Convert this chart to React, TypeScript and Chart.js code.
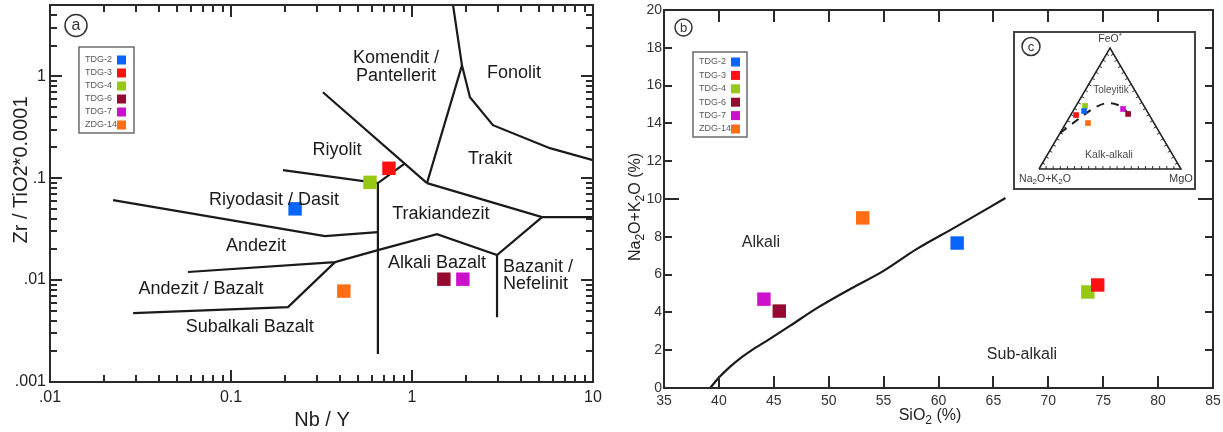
import { useEffect, useRef } from 'react';
import { Chart, registerables } from 'chart.js';

Chart.register(...registerables);

const FONT = '"Liberation Sans", Arial, Helvetica, sans-serif';
const INK = '#1a1a1a';

// Samples shared by all three diagrams
const SAMPLES = ['TDG-2', 'TDG-3', 'TDG-4', 'TDG-6', 'TDG-7', 'ZDG-14'];
const SAMPLE_COLORS = ['#0a64ff', '#ff1010', '#96c814', '#960a32', '#cc10cc', '#ff6e14'];

// (a) Nb/Y vs Zr/TiO2*0.0001
const NB_Y = [0.226, 0.746, 0.586, 1.5, 1.91, 0.42];
const ZR_TIO2 = [0.05, 0.125, 0.091, 0.0102, 0.0102, 0.0078];

// (b) SiO2 vs Na2O+K2O
const SIO2 = [61.7, 74.5, 73.6, 45.5, 44.1, 53.1];
const NA2O_K2O = [7.67, 5.45, 5.08, 4.07, 4.7, 9.0];

// (c) AFM: alkalis, FeO*, MgO (%)
const AFM_A = [44.3, 51.6, 41.5, 14.5, 16.0, 46.5];
const AFM_F = [47.9, 44.6, 52.1, 45.5, 49.6, 38.0];
const AFM_M = [7.8, 3.8, 6.4, 40.0, 34.4, 15.5];

// (a) field boundaries, [Nb/Y, Zr/TiO2*0.0001]
const RHYODACITE_LOWER: [number, number][] = [[0.0223, 0.0608], [0.33, 0.027], [0.648, 0.0296]];
const RHYOLITE_LOWER: [number, number][] = [[0.1936, 0.12], [0.648, 0.0893], [0.914, 0.14]];
const SUBALKALINE_DIVIDE: [number, number][] = [[0.648, 0.0893], [0.648, 0.00188]];
const COMENDITE_LOWER: [number, number][] = [[0.322, 0.697], [1.21, 0.0893]];
const TRACHYTE_LOWER: [number, number][] = [[1.21, 0.0893], [5.23, 0.0415], [10, 0.0415]];
const COMENDITE_TRACHYTE: [number, number][] = [[1.21, 0.0893], [1.888, 1.28]];
const PHONOLITE_LOWER: [number, number][] = [[1.686, 4.97], [1.888, 1.28], [2.09, 0.622], [2.8, 0.331], [5.78, 0.197], [10, 0.15]];
const TRACHYANDESITE_LOWER: [number, number][] = [[0.0578, 0.012], [0.3755, 0.015], [0.648, 0.0197], [1.374, 0.0282], [2.95, 0.0176], [5.23, 0.0415]];
const BASALT_UPPER: [number, number][] = [[0.0288, 0.00474], [0.2065, 0.00543], [0.3755, 0.015]];
const BASANITE_DIVIDE: [number, number][] = [[2.95, 0.0176], [2.95, 0.00433]];

// (b) alkaline / sub-alkaline divide
const DIVIDE_SIO2 = [39.2, 40.0, 41.0, 42.0, 43.0, 44.5, 46.5, 49.0, 52.0, 55.0, 58.0, 61.5, 66.1];
const DIVIDE_ALK = [0, 0.55, 1.12, 1.6, 2.0, 2.55, 3.3, 4.25, 5.25, 6.2, 7.35, 8.5, 10.05];

// (c) tholeiitic / calc-alkaline divide (A, F, M)
const AFM_CURVE_A = [70.2, 58.2, 46.0, 34.2, 24.2, 17.9, 14.8, 12.1];
const AFM_CURVE_F = [29.8, 37.2, 44.7, 51.3, 54.5, 52.9, 47.9, 42.1];
const AFM_CURVE_M = [0, 4.6, 9.3, 14.5, 21.3, 29.2, 37.3, 45.8];

// Axis ranges and tick labels
const NBY_RANGE = [0.01, 10];
const ZR_RANGE = [0.001, 5];
const NBY_TICKS = [0.01, 0.1, 1, 10];
const NBY_TICK_LABELS = ['.01', '0.1', '1', '10'];
const ZR_TICKS = [0.001, 0.01, 0.1, 1];
const ZR_TICK_LABELS = ['.001', '.01', '.1', '1'];
const SIO2_RANGE = [35, 85];
const ALK_RANGE = [0, 20];

const FIELD_LABELS_A = [
  { lines: ['Komendit /', 'Pantellerit'], x: 0.816, y: 1.225 },
  { lines: ['Fonolit'], x: 3.66, y: 1.07 },
  { lines: ['Riyolit'], x: 0.385, y: 0.188 },
  { lines: ['Trakit'], x: 2.7, y: 0.153 },
  { lines: ['Riyodasit / Dasit'], x: 0.173, y: 0.0608 },
  { lines: ['Trakiandezit'], x: 1.445, y: 0.0443 },
  { lines: ['Andezit'], x: 0.1374, y: 0.0216 },
  { lines: ['Andezit / Bazalt'], x: 0.0683, y: 0.00816 },
  { lines: ['Subalkali Bazalt'], x: 0.127, y: 0.00346 },
  { lines: ['Alkali Bazalt'], x: 1.374, y: 0.01468 },
  { lines: ['Bazanit /', 'Nefelinit'], x: 3.18, y: 0.01107, left: true },
];

const FIELD_LABELS_B = [
  { text: 'Alkali', x: 43.83, y: 7.67 },
  { text: 'Sub-alkali', x: 67.6, y: 1.75 },
];

type Run = { t: string; sub?: boolean; sup?: boolean };

// "_x" lowers the next character, "^x" raises it
function parseRuns(s: string): Run[] {
  const runs: Run[] = [];
  let buf = '';
  for (let i = 0; i < s.length; i++) {
    const c = s[i];
    if ((c === '_' || c === '^') && i + 1 < s.length) {
      if (buf) runs.push({ t: buf });
      buf = '';
      runs.push(c === '_' ? { t: s[i + 1], sub: true } : { t: s[i + 1], sup: true });
      i++;
    } else buf += c;
  }
  if (buf) runs.push({ t: buf });
  return runs;
}

function drawRich(ctx: CanvasRenderingContext2D, s: string, x: number, y: number, size: number, align: 'left' | 'center' = 'center') {
  const runs = parseRuns(s);
  const small = Math.round(size * 0.72);
  const fontOf = (r: Run) => `${r.sub || r.sup ? small : size}px ${FONT}`;
  let w = 0;
  for (const r of runs) {
    ctx.font = fontOf(r);
    w += ctx.measureText(r.t).width;
  }
  let cx = align === 'center' ? x - w / 2 : x;
  ctx.textAlign = 'left';
  ctx.textBaseline = 'middle';
  for (const r of runs) {
    ctx.font = fontOf(r);
    const dy = r.sub ? size * 0.28 : r.sup ? -size * 0.3 : 0;
    ctx.fillText(r.t, cx, y + dy);
    cx += ctx.measureText(r.t).width;
  }
}

type TickMark = { value: number; len: number };

// Frame with inward-pointing tick marks on all four sides
function drawFrame(chart: any, xt: TickMark[], yt: TickMark[], color: string) {
  const ctx: CanvasRenderingContext2D = chart.ctx;
  const area = chart.chartArea;
  const sx = chart.scales.x;
  const sy = chart.scales.y;
  ctx.save();
  ctx.setLineDash([]);
  ctx.globalAlpha = 1;
  ctx.strokeStyle = color;
  ctx.lineWidth = 2;
  ctx.lineCap = 'butt';
  xt.forEach((t) => {
    const px = Math.round(sx.getPixelForValue(t.value));
    ctx.beginPath();
    ctx.moveTo(px, area.bottom);
    ctx.lineTo(px, area.bottom - t.len);
    ctx.moveTo(px, area.top);
    ctx.lineTo(px, area.top + t.len);
    ctx.stroke();
  });
  yt.forEach((t) => {
    const py = Math.round(sy.getPixelForValue(t.value));
    ctx.beginPath();
    ctx.moveTo(area.left, py);
    ctx.lineTo(area.left + t.len, py);
    ctx.moveTo(area.right, py);
    ctx.lineTo(area.right - t.len, py);
    ctx.stroke();
  });
  ctx.lineWidth = 2;
  ctx.strokeRect(area.left, area.top, area.right - area.left, area.bottom - area.top);
  ctx.restore();
}

function drawBadge(ctx: CanvasRenderingContext2D, ch: string, x: number, y: number, r: number, size: number) {
  ctx.save();
  ctx.setLineDash([]);
  ctx.strokeStyle = '#333';
  ctx.lineWidth = 1.5;
  ctx.beginPath();
  ctx.arc(x, y, r, 0, Math.PI * 2);
  ctx.stroke();
  ctx.fillStyle = '#333';
  ctx.font = `${size}px ${FONT}`;
  ctx.textAlign = 'center';
  ctx.textBaseline = 'middle';
  ctx.fillText(ch, x, y + 0.5);
  ctx.restore();
}

function drawLegend(ctx: CanvasRenderingContext2D, x: number, y: number, w: number, h: number, first: number, step: number) {
  ctx.save();
  ctx.setLineDash([]);
  ctx.fillStyle = '#fff';
  ctx.fillRect(x, y, w, h);
  ctx.strokeStyle = '#555';
  ctx.lineWidth = 1.3;
  ctx.strokeRect(x, y, w, h);
  ctx.font = `9px ${FONT}`;
  ctx.textAlign = 'left';
  ctx.textBaseline = 'middle';
  SAMPLES.forEach((s, i) => {
    const cy = y + first + i * step;
    ctx.fillStyle = '#5a5a5a';
    ctx.fillText(s, x + 6, cy);
    ctx.fillStyle = SAMPLE_COLORS[i];
    ctx.fillRect(x + 38, cy - 4.5, 9, 9);
  });
  ctx.restore();
}

function sampleSets(xs: number[], ys: number[], radius: number) {
  return SAMPLES.map((name, i) => ({
    label: name,
    data: [{ x: xs[i], y: ys[i] }],
    pointStyle: 'rect',
    pointRadius: radius,
    pointHoverRadius: radius,
    backgroundColor: SAMPLE_COLORS[i],
    borderColor: SAMPLE_COLORS[i],
    pointBorderWidth: 0,
    borderWidth: 0,
    showLine: false,
  }));
}

function lineSet(pts: { x: number; y: number }[], extra: any = {}) {
  return {
    data: pts,
    showLine: true,
    borderColor: INK,
    borderWidth: 2.2,
    pointRadius: 0,
    pointHoverRadius: 0,
    fill: false,
    tension: 0,
    ...extra,
  };
}

const noText = { display: false };

function configA(): any {
  const boundaries = [
    RHYODACITE_LOWER, RHYOLITE_LOWER, SUBALKALINE_DIVIDE, COMENDITE_LOWER, TRACHYTE_LOWER,
    COMENDITE_TRACHYTE, PHONOLITE_LOWER, TRACHYANDESITE_LOWER, BASALT_UPPER, BASANITE_DIVIDE,
  ];
  const xMarks: TickMark[] = [];
  [0.01, 0.1, 1].forEach((d) => {
    xMarks.push({ value: d, len: 12 });
    for (let k = 2; k <= 9; k++) xMarks.push({ value: k * d, len: 7 });
  });
  const yMarks: TickMark[] = [];
  [0.001, 0.01, 0.1].forEach((d) => {
    yMarks.push({ value: d, len: 12 });
    for (let k = 2; k <= 9; k++) yMarks.push({ value: k * d, len: 7 });
  });
  [1, 2, 3, 4].forEach((v) => yMarks.push({ value: v, len: v === 1 ? 12 : 7 }));

  const decor = {
    id: 'decorA',
    afterDraw(chart: any) {
      const { ctx, chartArea: a, scales } = chart;
      drawFrame(chart, xMarks, yMarks, '#2a2a2a');
      ctx.save();
      ctx.fillStyle = INK;
      for (const l of FIELD_LABELS_A) {
        const px = scales.x.getPixelForValue(l.x);
        const py = scales.y.getPixelForValue(l.y);
        const gap = 17.5;
        l.lines.forEach((t, i) => {
          const yy = py + (i - (l.lines.length - 1) / 2) * gap;
          drawRich(ctx, t, px, yy, 18, l.left ? 'left' : 'center');
        });
      }
      ctx.fillStyle = '#222';
      drawRich(ctx, 'Nb / Y', 322, 420, 20);
      ctx.save();
      ctx.translate(21, 170);
      ctx.rotate(-Math.PI / 2);
      drawRich(ctx, 'Zr / TiO2*0.0001', 0, 0, 20);
      ctx.restore();
      ctx.restore();
      drawBadge(ctx, 'a', a.left + 26, a.top + 20.5, 11, 16);
      drawLegend(ctx, a.left + 29, a.top + 42, 55, 86, 13, 13);
    },
  };

  return {
    type: 'scatter',
    data: {
      datasets: [
        ...sampleSets(NB_Y, ZR_TIO2, 9.5),
        ...boundaries.map((b) => lineSet(b.map(([x, y]) => ({ x, y })))),
      ],
    },
    options: {
      responsive: false,
      animation: false,
      devicePixelRatio: 1,
      events: [],
      layout: { autoPadding: false, padding: { left: 0, top: 5, right: 19, bottom: 0 } },
      plugins: { legend: noText, tooltip: { enabled: false }, title: noText },
      scales: {
        x: {
          type: 'logarithmic',
          position: 'bottom',
          min: NBY_RANGE[0],
          max: NBY_RANGE[1],
          grid: { display: false, drawTicks: false, tickLength: 0 },
          border: { display: false },
          ticks: {
            autoSkip: false,
            maxRotation: 0,
            padding: 6,
            color: '#222',
            font: { size: 16, family: FONT },
            callback: (_v: any, i: number) => NBY_TICK_LABELS[i],
          },
          afterBuildTicks: (s: any) => {
            s.ticks = NBY_TICKS.map((value) => ({ value }));
          },
          afterFit: (s: any) => {
            s.height = 50;
            s.paddingLeft = 0;
            s.paddingRight = 0;
          },
        },
        y: {
          type: 'logarithmic',
          position: 'left',
          min: ZR_RANGE[0],
          max: ZR_RANGE[1],
          grid: { display: false, drawTicks: false, tickLength: 0 },
          border: { display: false },
          ticks: {
            autoSkip: false,
            padding: 4,
            color: '#222',
            font: { size: 16, family: FONT },
            callback: (_v: any, i: number) => ZR_TICK_LABELS[i],
          },
          afterBuildTicks: (s: any) => {
            s.ticks = ZR_TICKS.map((value) => ({ value }));
          },
          afterFit: (s: any) => {
            s.width = 50;
            s.paddingTop = 0;
            s.paddingBottom = 0;
          },
        },
      },
    },
    plugins: [decor],
  };
}

function configB(): any {
  const xMarks: TickMark[] = [];
  for (let v = SIO2_RANGE[0] + 5; v < SIO2_RANGE[1]; v += 5) xMarks.push({ value: v, len: 12 });
  const yMarks: TickMark[] = [];
  for (let v = ALK_RANGE[0] + 2; v < ALK_RANGE[1]; v += 2) yMarks.push({ value: v, len: v === 10 ? 15 : 8 });

  const decor = {
    id: 'decorB',
    afterDraw(chart: any) {
      const { ctx, chartArea: a, scales } = chart;
      drawFrame(chart, xMarks, yMarks, '#2a2a2a');
      ctx.save();
      ctx.fillStyle = '#2a2a2a';
      for (const l of FIELD_LABELS_B) {
        drawRich(ctx, l.text, scales.x.getPixelForValue(l.x), scales.y.getPixelForValue(l.y), 16);
      }
      ctx.fillStyle = '#222';
      drawRich(ctx, 'SiO_2 (%)', 320, 416, 16);
      ctx.save();
      ctx.translate(26, 207);
      ctx.rotate(-Math.PI / 2);
      drawRich(ctx, 'Na_2O+K_2O (%)', 0, 0, 16);
      ctx.restore();
      ctx.restore();
      drawBadge(ctx, 'b', a.left + 19.5, a.top + 17.5, 8.5, 13);
      drawLegend(ctx, a.left + 29, a.top + 42, 54, 85, 10, 13.4);
    },
  };

  return {
    type: 'scatter',
    data: {
      datasets: [
        ...sampleSets(SIO2, NA2O_K2O, 9.5),
        lineSet(DIVIDE_SIO2.map((x, i) => ({ x, y: DIVIDE_ALK[i] })), { cubicInterpolationMode: 'monotone' }),
      ],
    },
    options: {
      responsive: false,
      animation: false,
      devicePixelRatio: 1,
      events: [],
      layout: { autoPadding: false, padding: { left: 0, top: 10, right: 10, bottom: 0 } },
      plugins: { legend: noText, tooltip: { enabled: false }, title: noText },
      scales: {
        x: {
          type: 'linear',
          position: 'bottom',
          min: SIO2_RANGE[0],
          max: SIO2_RANGE[1],
          grid: { display: false, drawTicks: false, tickLength: 0 },
          border: { display: false },
          ticks: { stepSize: 5, autoSkip: false, maxRotation: 0, padding: 5, color: '#333', font: { size: 14, family: FONT } },
          afterFit: (s: any) => {
            s.height = 44;
            s.paddingLeft = 0;
            s.paddingRight = 0;
          },
        },
        y: {
          type: 'linear',
          position: 'left',
          min: ALK_RANGE[0],
          max: ALK_RANGE[1],
          grid: { display: false, drawTicks: false, tickLength: 0 },
          border: { display: false },
          ticks: { stepSize: 2, autoSkip: false, padding: 2, color: '#333', font: { size: 14, family: FONT } },
          afterFit: (s: any) => {
            s.width = 54;
            s.paddingTop = 0;
            s.paddingBottom = 0;
          },
        },
      },
    },
    plugins: [decor],
  };
}

// Ternary (A, F, M) to the inset's cartesian frame: A at origin, M at (100, 0), F at the apex
function ternary(a: number, f: number, m: number) {
  const s = a + f + m;
  const F = (f / s) * 100;
  const M = (m / s) * 100;
  return { x: M + F / 2, y: (F * Math.sqrt(3)) / 2 };
}

function configC(): any {
  const apexH = 50 * Math.sqrt(3);
  const decor = {
    id: 'decorC',
    beforeDraw(chart: any) {
      const { ctx, width, height } = chart;
      ctx.save();
      ctx.fillStyle = '#fff';
      ctx.fillRect(0, 0, width, height);
      ctx.restore();
    },
    beforeDatasetsDraw(chart: any) {
      const { ctx, scales } = chart;
      const P = (a: number, f: number, m: number) => {
        const p = ternary(a, f, m);
        return { x: scales.x.getPixelForValue(p.x), y: scales.y.getPixelForValue(p.y) };
      };
      const corners = [P(100, 0, 0), P(0, 0, 100), P(0, 100, 0)];
      const cx = (corners[0].x + corners[1].x + corners[2].x) / 3;
      const cy = (corners[0].y + corners[1].y + corners[2].y) / 3;
      ctx.save();
      ctx.setLineDash([]);
      ctx.strokeStyle = '#333';
      ctx.lineWidth = 1;
      ctx.beginPath();
      for (let e = 0; e < 3; e++) {
        const p0 = corners[e];
        const p1 = corners[(e + 1) % 3];
        const dx = p1.x - p0.x;
        const dy = p1.y - p0.y;
        const len = Math.hypot(dx, dy);
        let nx = -dy / len;
        let ny = dx / len;
        if ((cx - p0.x) * nx + (cy - p0.y) * ny < 0) {
          nx = -nx;
          ny = -ny;
        }
        for (let t = 5; t < 100; t += 5) {
          const x = p0.x + (dx * t) / 100;
          const y = p0.y + (dy * t) / 100;
          ctx.moveTo(x, y);
          ctx.lineTo(x + nx * 3, y + ny * 3);
        }
      }
      ctx.stroke();
      ctx.restore();
    },
    afterDraw(chart: any) {
      const { ctx, scales, width, height } = chart;
      const px = (x: number) => scales.x.getPixelForValue(x);
      const py = (y: number) => scales.y.getPixelForValue(y);
      ctx.save();
      ctx.setLineDash([]);
      ctx.strokeStyle = '#444';
      ctx.lineWidth = 2;
      ctx.strokeRect(1, 1, width - 2, height - 2);
      ctx.fillStyle = '#3a3a3a';
      drawRich(ctx, 'FeO^*', px(50), py(apexH) - 9, 10.5);
      drawRich(ctx, 'Na_2O+K_2O', px(0) + 6, py(0) + 10, 10.5);
      drawRich(ctx, 'MgO', px(100), py(0) + 10, 11);
      ctx.fillStyle = '#4a4a4a';
      drawRich(ctx, 'Toleyitik', px(50.7), py(56.5), 10);
      drawRich(ctx, 'Kalk-alkali', px(49.3), py(10), 10.5);
      ctx.restore();
      drawBadge(ctx, 'c', 18, 15.5, 9, 13);
    },
  };

  const outline = [ternary(100, 0, 0), ternary(0, 0, 100), ternary(0, 100, 0), ternary(100, 0, 0)];
  const curve = AFM_CURVE_A.map((a, i) => ternary(a, AFM_CURVE_F[i], AFM_CURVE_M[i]));
  const points = SAMPLES.map((_, i) => ternary(AFM_A[i], AFM_F[i], AFM_M[i]));

  return {
    type: 'scatter',
    data: {
      datasets: [
        ...sampleSets(points.map((p) => p.x), points.map((p) => p.y), 4),
        lineSet(curve, { borderDash: [8, 7], borderWidth: 2, cubicInterpolationMode: 'monotone', clip: false }),
        lineSet(outline, { borderWidth: 1.5, borderColor: '#222', clip: false }),
      ],
    },
    options: {
      responsive: false,
      animation: false,
      devicePixelRatio: 1,
      events: [],
      layout: { autoPadding: false, padding: { left: 26, top: 17, right: 15, bottom: 21 } },
      plugins: { legend: noText, tooltip: { enabled: false }, title: noText },
      scales: {
        x: { type: 'linear', min: 0, max: 100, display: false },
        y: { type: 'linear', min: 0, max: apexH, display: false },
      },
    },
    plugins: [decor],
  };
}

export default function App() {
  const aRef = useRef<HTMLCanvasElement>(null);
  const bRef = useRef<HTMLCanvasElement>(null);
  const cRef = useRef<HTMLCanvasElement>(null);

  useEffect(() => {
    Chart.defaults.font.family = FONT;
    const charts = [
      new Chart(aRef.current as HTMLCanvasElement, configA()),
      new Chart(bRef.current as HTMLCanvasElement, configB()),
      new Chart(cRef.current as HTMLCanvasElement, configC()),
    ];
    return () => charts.forEach((c) => c.destroy());
  }, []);

  return (
    <div style={{ position: 'absolute', left: 0, top: 0, width: 1223, height: 432, background: '#fff', overflow: 'hidden' }}>
      <canvas ref={aRef} width={612} height={432} style={{ position: 'absolute', left: 0, top: 0, width: 612, height: 432 }} />
      <canvas ref={bRef} width={613} height={432} style={{ position: 'absolute', left: 610, top: 0, width: 613, height: 432 }} />
      <canvas ref={cRef} width={183} height={159} style={{ position: 'absolute', left: 1013, top: 31, width: 183, height: 159 }} />
    </div>
  );
}
